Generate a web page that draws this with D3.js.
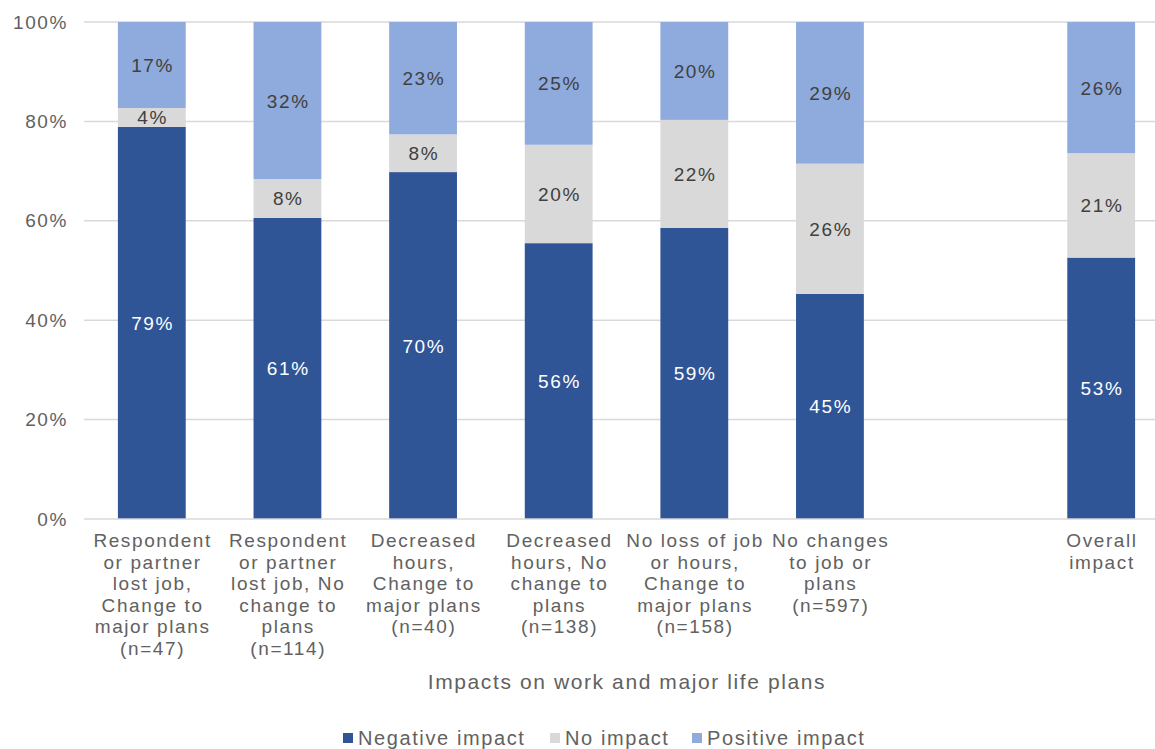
<!DOCTYPE html>
<html><head><meta charset="utf-8">
<script src="https://cdn.jsdelivr.net/npm/d3@7"></script>
<style>body{margin:0;background:#fff;} text{font-family:"Liberation Sans",Arial,sans-serif;}</style>
</head><body><svg id="c" width="1155" height="749"></svg>
<script>
const categories = ["c1","c2","c3","c4","c5","c6","gap","overall"];
const categoryLabels = [
  ["Respondent","or partner","lost job,","Change to","major plans","(n=47)"],
  ["Respondent","or partner","lost job, No","change to","plans","(n=114)"],
  ["Decreased","hours,","Change to","major plans","(n=40)"],
  ["Decreased","hours, No","change to","plans","(n=138)"],
  ["No loss of job","or hours,","Change to","major plans","(n=158)"],
  ["No changes","to job or","plans","(n=597)"],
  [],
  ["Overall","impact"]
];
const negative = [78.9, 60.6, 69.8, 55.5, 58.6, 45.3, null, 52.6];
const noImpact = [3.8, 7.8, 7.6, 19.8, 21.7, 26.2, null, 21.0];
const positive = [17.3, 31.6, 22.6, 24.7, 19.7, 28.5, null, 26.4];
const seriesNames = ["Negative impact","No impact","Positive impact"];
const yTicks = [0,20,40,60,80,100];

const colors = ["#2F5597","#D9D9D9","#8FAADC"];
const labelColors = ["#ffffff","#404040","#404040"];
const LS = 1.6;

const svg = d3.select("#c");
const x = d3.scaleBand().domain(categories).range([84,1169]).paddingInner(0.5).paddingOuter(0.25);
const y = d3.scaleLinear().domain([0,100]).range([519,22]);

// gridlines
svg.append("g").selectAll("line").data(yTicks.filter(t=>t>0)).join("line")
  .attr("x1",84).attr("x2",1169).attr("y1",d=>y(d)).attr("y2",d=>y(d))
  .attr("stroke","#D9D9D9").attr("stroke-width",1.5);

// y axis labels
const yAxis = d3.axisLeft(y).tickValues(yTicks).tickFormat(d=>d+"%").tickSize(0).tickPadding(16);
const ya = svg.append("g").attr("transform","translate(84,0)").call(yAxis);
ya.select(".domain").remove();
ya.selectAll("text").attr("font-size",19).attr("fill","#616161")
  .attr("font-family","Liberation Sans, Arial, sans-serif").attr("letter-spacing",LS);

// stack
const rows = categories.map((c,i)=>({cat:c, v:[negative[i],noImpact[i],positive[i]]})).filter(r=>r.v[0]!=null);
const stackData = rows.map(r=>{let acc=0; return r.v.map((v,k)=>{const s={cat:r.cat,k,v,y0:acc,y1:acc+v}; acc+=v; return s;});}).flat();

svg.append("g").selectAll("rect").data(stackData).join("rect")
  .attr("x",d=>x(d.cat)).attr("width",x.bandwidth())
  .attr("y",d=>y(d.y1)).attr("height",d=>y(d.y0)-y(d.y1))
  .attr("fill",d=>colors[d.k]);

svg.append("g").selectAll("text").data(stackData).join("text")
  .attr("x",d=>x(d.cat)+x.bandwidth()/2+LS/2).attr("y",d=>y((d.y0+d.y1)/2)+7)
  .attr("text-anchor","middle").attr("font-size",19).attr("letter-spacing",LS).attr("fill",d=>labelColors[d.k])
  .text(d=>Math.round(d.v)+"%");

// x baseline
svg.append("line").attr("x1",84).attr("x2",1169).attr("y1",y(0)).attr("y2",y(0))
  .attr("stroke","#D9D9D9").attr("stroke-width",1.5);

// x labels
const xl = svg.append("g").selectAll("text").data(categories.map((c,i)=>({c,lines:categoryLabels[i]}))).join("text")
  .attr("text-anchor","middle").attr("font-size",19).attr("letter-spacing",LS).attr("fill","#616161");
xl.each(function(d){
  d3.select(this).selectAll("tspan").data(d.lines).join("tspan")
    .attr("x",x(d.c)+x.bandwidth()/2+LS/2).attr("y",(l,j)=>547+j*21.6).text(l=>l);
});

// axis title
svg.append("text").attr("x",627).attr("y",689).attr("text-anchor","middle")
  .attr("font-size",21).attr("letter-spacing",LS).attr("fill","#616161").text("Impacts on work and major life plans");

// legend
const legendX = [343,550,692];
const lg = svg.append("g").selectAll("g").data(seriesNames).join("g")
  .attr("transform",(d,i)=>`translate(${legendX[i]},738)`);
lg.append("rect").attr("x",0).attr("y",-5).attr("width",10).attr("height",10).attr("fill",(d,i)=>colors[i]);
lg.append("text").attr("x",15).attr("y",7).attr("font-size",20).attr("letter-spacing",LS).attr("fill","#616161").text(d=>d);
</script></body></html>
